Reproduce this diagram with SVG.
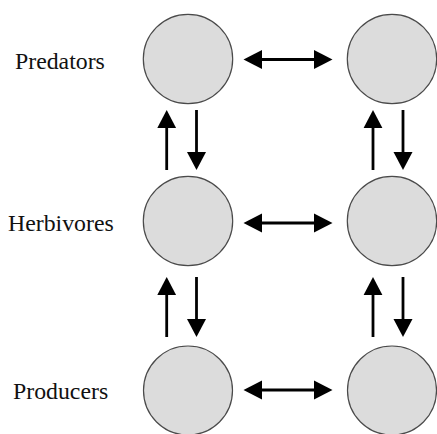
<svg xmlns="http://www.w3.org/2000/svg" width="437" height="434" viewBox="0 0 437 434">
<style>
.node circle{fill:#dcdcdc;stroke:#4a4a4a;stroke-width:1.2}
.lbl{font-family:"Liberation Serif","Times New Roman",serif;font-size:23.8px;fill:#111}
.conn line{stroke:#000;stroke-width:2.8}
.hd{fill:#000}
</style>
<rect width="437" height="434" fill="#fff"/>
<g id="label-predators"><text class="lbl" x="15" y="69">Predators</text></g>
<g id="label-herbivores"><text class="lbl" x="8" y="231">Herbivores</text></g>
<g id="label-producers"><text class="lbl" x="13" y="399">Producers</text></g>
<g id="pred-1" class="node"><circle cx="188" cy="59" r="44.7"/></g>
<g id="pred-2" class="node"><circle cx="392" cy="59" r="44.7"/></g>
<g id="herb-1" class="node"><circle cx="188" cy="221" r="44.7"/></g>
<g id="herb-2" class="node"><circle cx="392" cy="221" r="44.7"/></g>
<g id="prod-1" class="node"><circle cx="188" cy="390.5" r="44.5"/></g>
<g id="prod-2" class="node"><circle cx="392" cy="390.5" r="44.5"/></g>
<g id="connectors" class="conn">
<line x1="258" y1="59.5" x2="318" y2="59.5"/>
<path class="hd" d="M243.5,59.5 L262,50 L262,69 Z"/>
<path class="hd" d="M332.5,59.5 L314,50 L314,69 Z"/>
<line x1="258" y1="223" x2="318" y2="223"/>
<path class="hd" d="M243.5,223 L262,213.5 L262,232.5 Z"/>
<path class="hd" d="M332.5,223 L314,213.5 L314,232.5 Z"/>
<line x1="258" y1="390" x2="318" y2="390"/>
<path class="hd" d="M243.5,390 L262,380.5 L262,399.5 Z"/>
<path class="hd" d="M332.5,390 L314,380.5 L314,399.5 Z"/>
<line x1="166.7" y1="124" x2="166.7" y2="170"/>
<path class="hd" d="M166.7,110 L157.3,128 L176.1,128 Z"/>
<line x1="196.5" y1="110" x2="196.5" y2="156"/>
<path class="hd" d="M196.5,170 L187,152 L206,152 Z"/>
<line x1="166.7" y1="291" x2="166.7" y2="337"/>
<path class="hd" d="M166.7,277 L157.3,295 L176.1,295 Z"/>
<line x1="196.5" y1="277" x2="196.5" y2="323"/>
<path class="hd" d="M196.5,337 L187,319 L206,319 Z"/>
<line x1="373" y1="124" x2="373" y2="170"/>
<path class="hd" d="M373,110 L363.6,128 L382.4,128 Z"/>
<line x1="403" y1="110" x2="403" y2="156"/>
<path class="hd" d="M403,170 L393.5,152 L412.5,152 Z"/>
<line x1="373" y1="291" x2="373" y2="337"/>
<path class="hd" d="M373,277 L363.6,295 L382.4,295 Z"/>
<line x1="403" y1="277" x2="403" y2="323"/>
<path class="hd" d="M403,337 L393.5,319 L412.5,319 Z"/>
</g>
</svg>
